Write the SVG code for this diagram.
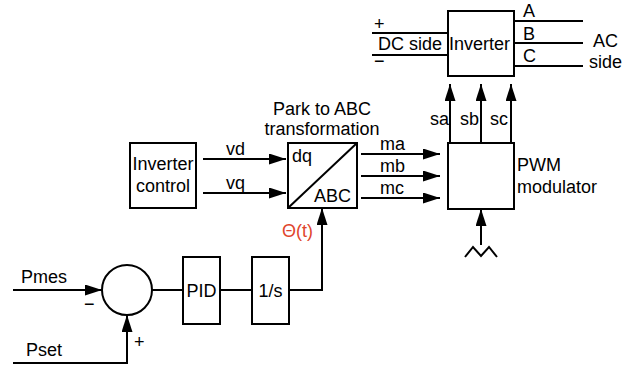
<svg xmlns="http://www.w3.org/2000/svg" width="644" height="369" viewBox="0 0 644 369">
<style>
.b{fill:#fff;stroke:#000;stroke-width:2}
.l{fill:none;stroke:#000;stroke-width:2}
.a{marker-end:url(#ah)}
text{font-family:"Liberation Sans",Arial,sans-serif;font-size:18px;fill:#000}
.c{text-anchor:middle}
.red{fill:#e0452c}
</style>
<defs>
<marker id="ah" markerUnits="userSpaceOnUse" markerWidth="17" markerHeight="11" refX="17" refY="5.5" orient="auto">
<path d="M0,0 L17,5.5 L0,11 z" fill="#000"/>
</marker>
</defs>
<rect width="644" height="369" fill="#fff"/>
<g id="connectors">
<path class="l" d="M372,33 H448 M372,55 H448"/>
<path class="l" d="M514,21 H583 M514,43 H583 M514,66 H583"/>
<path class="l a" d="M450,143 V84"/>
<path class="l a" d="M481,143 V84"/>
<path class="l a" d="M511,143 V84"/>
<path class="l a" d="M203,159 H286"/>
<path class="l a" d="M203,193 H286"/>
<path class="l a" d="M361,154 H440"/>
<path class="l a" d="M361,176 H440"/>
<path class="l a" d="M361,198 H440"/>
<path class="l a" d="M481,245 V209"/>
<path class="l" d="M465,257 L473,247 L481,256 L489,247 L497,257"/>
<path class="l a" d="M289,290 H322 V208"/>
<path class="l a" d="M13,290 H102"/>
<path class="l" d="M152,290 H183 M220,290 H252"/>
<path class="l a" d="M13,363 H127 V315"/>
</g>
<g id="inverter">
<rect class="b" x="448" y="11" width="66" height="65"/>
<text x="449" y="50">Inverter</text>
</g>
<g id="dc-side">
<text x="374" y="30" font-size="16">+</text>
<text x="378" y="50">DC side</text>
<text x="374" y="67" font-size="16">−</text>
</g>
<g id="ac-side">
<text x="523" y="17">A</text>
<text x="523" y="40">B</text>
<text x="523" y="62">C</text>
<text x="593" y="47">AC</text>
<text x="589" y="68">side</text>
</g>
<g id="switch-labels">
<text x="430" y="125">sa</text>
<text x="460" y="125">sb</text>
<text x="490" y="125">sc</text>
</g>
<g id="pwm">
<rect class="b" x="448" y="143" width="66" height="66"/>
<text x="517" y="171">PWM</text>
<text x="517" y="193">modulator</text>
</g>
<g id="park">
<text class="c" x="322" y="115">Park to ABC</text>
<text class="c" x="322" y="135">transformation</text>
<rect class="b" x="288" y="143" width="69" height="65"/>
<path class="l" d="M288,208 L357,143"/>
<text x="292" y="162">dq</text>
<text x="351" y="202" text-anchor="end">ABC</text>
</g>
<g id="inverter-control">
<rect class="b" x="130" y="143" width="66" height="65"/>
<text class="c" x="163" y="170">Inverter</text>
<text class="c" x="163" y="192">control</text>
</g>
<g id="signal-labels">
<text x="226" y="155">vd</text>
<text x="226" y="189">vq</text>
<text x="380" y="150">ma</text>
<text x="380" y="172">mb</text>
<text x="380" y="194">mc</text>
<text class="red" x="282" y="237">Θ(t)</text>
</g>
<g id="sum">
<circle class="b" cx="127" cy="290" r="25"/>
<text x="84" y="310" font-size="16">−</text>
<text x="134" y="348" font-size="16">+</text>
</g>
<g id="pid">
<rect class="b" x="183" y="257" width="37" height="67"/>
<text class="c" x="201.5" y="297">PID</text>
</g>
<g id="integrator">
<rect class="b" x="252" y="257" width="37" height="67"/>
<text class="c" x="270.5" y="297">1/s</text>
</g>
<g id="inputs">
<text x="21" y="283">Pmes</text>
<text x="26" y="356">Pset</text>
</g>
</svg>
